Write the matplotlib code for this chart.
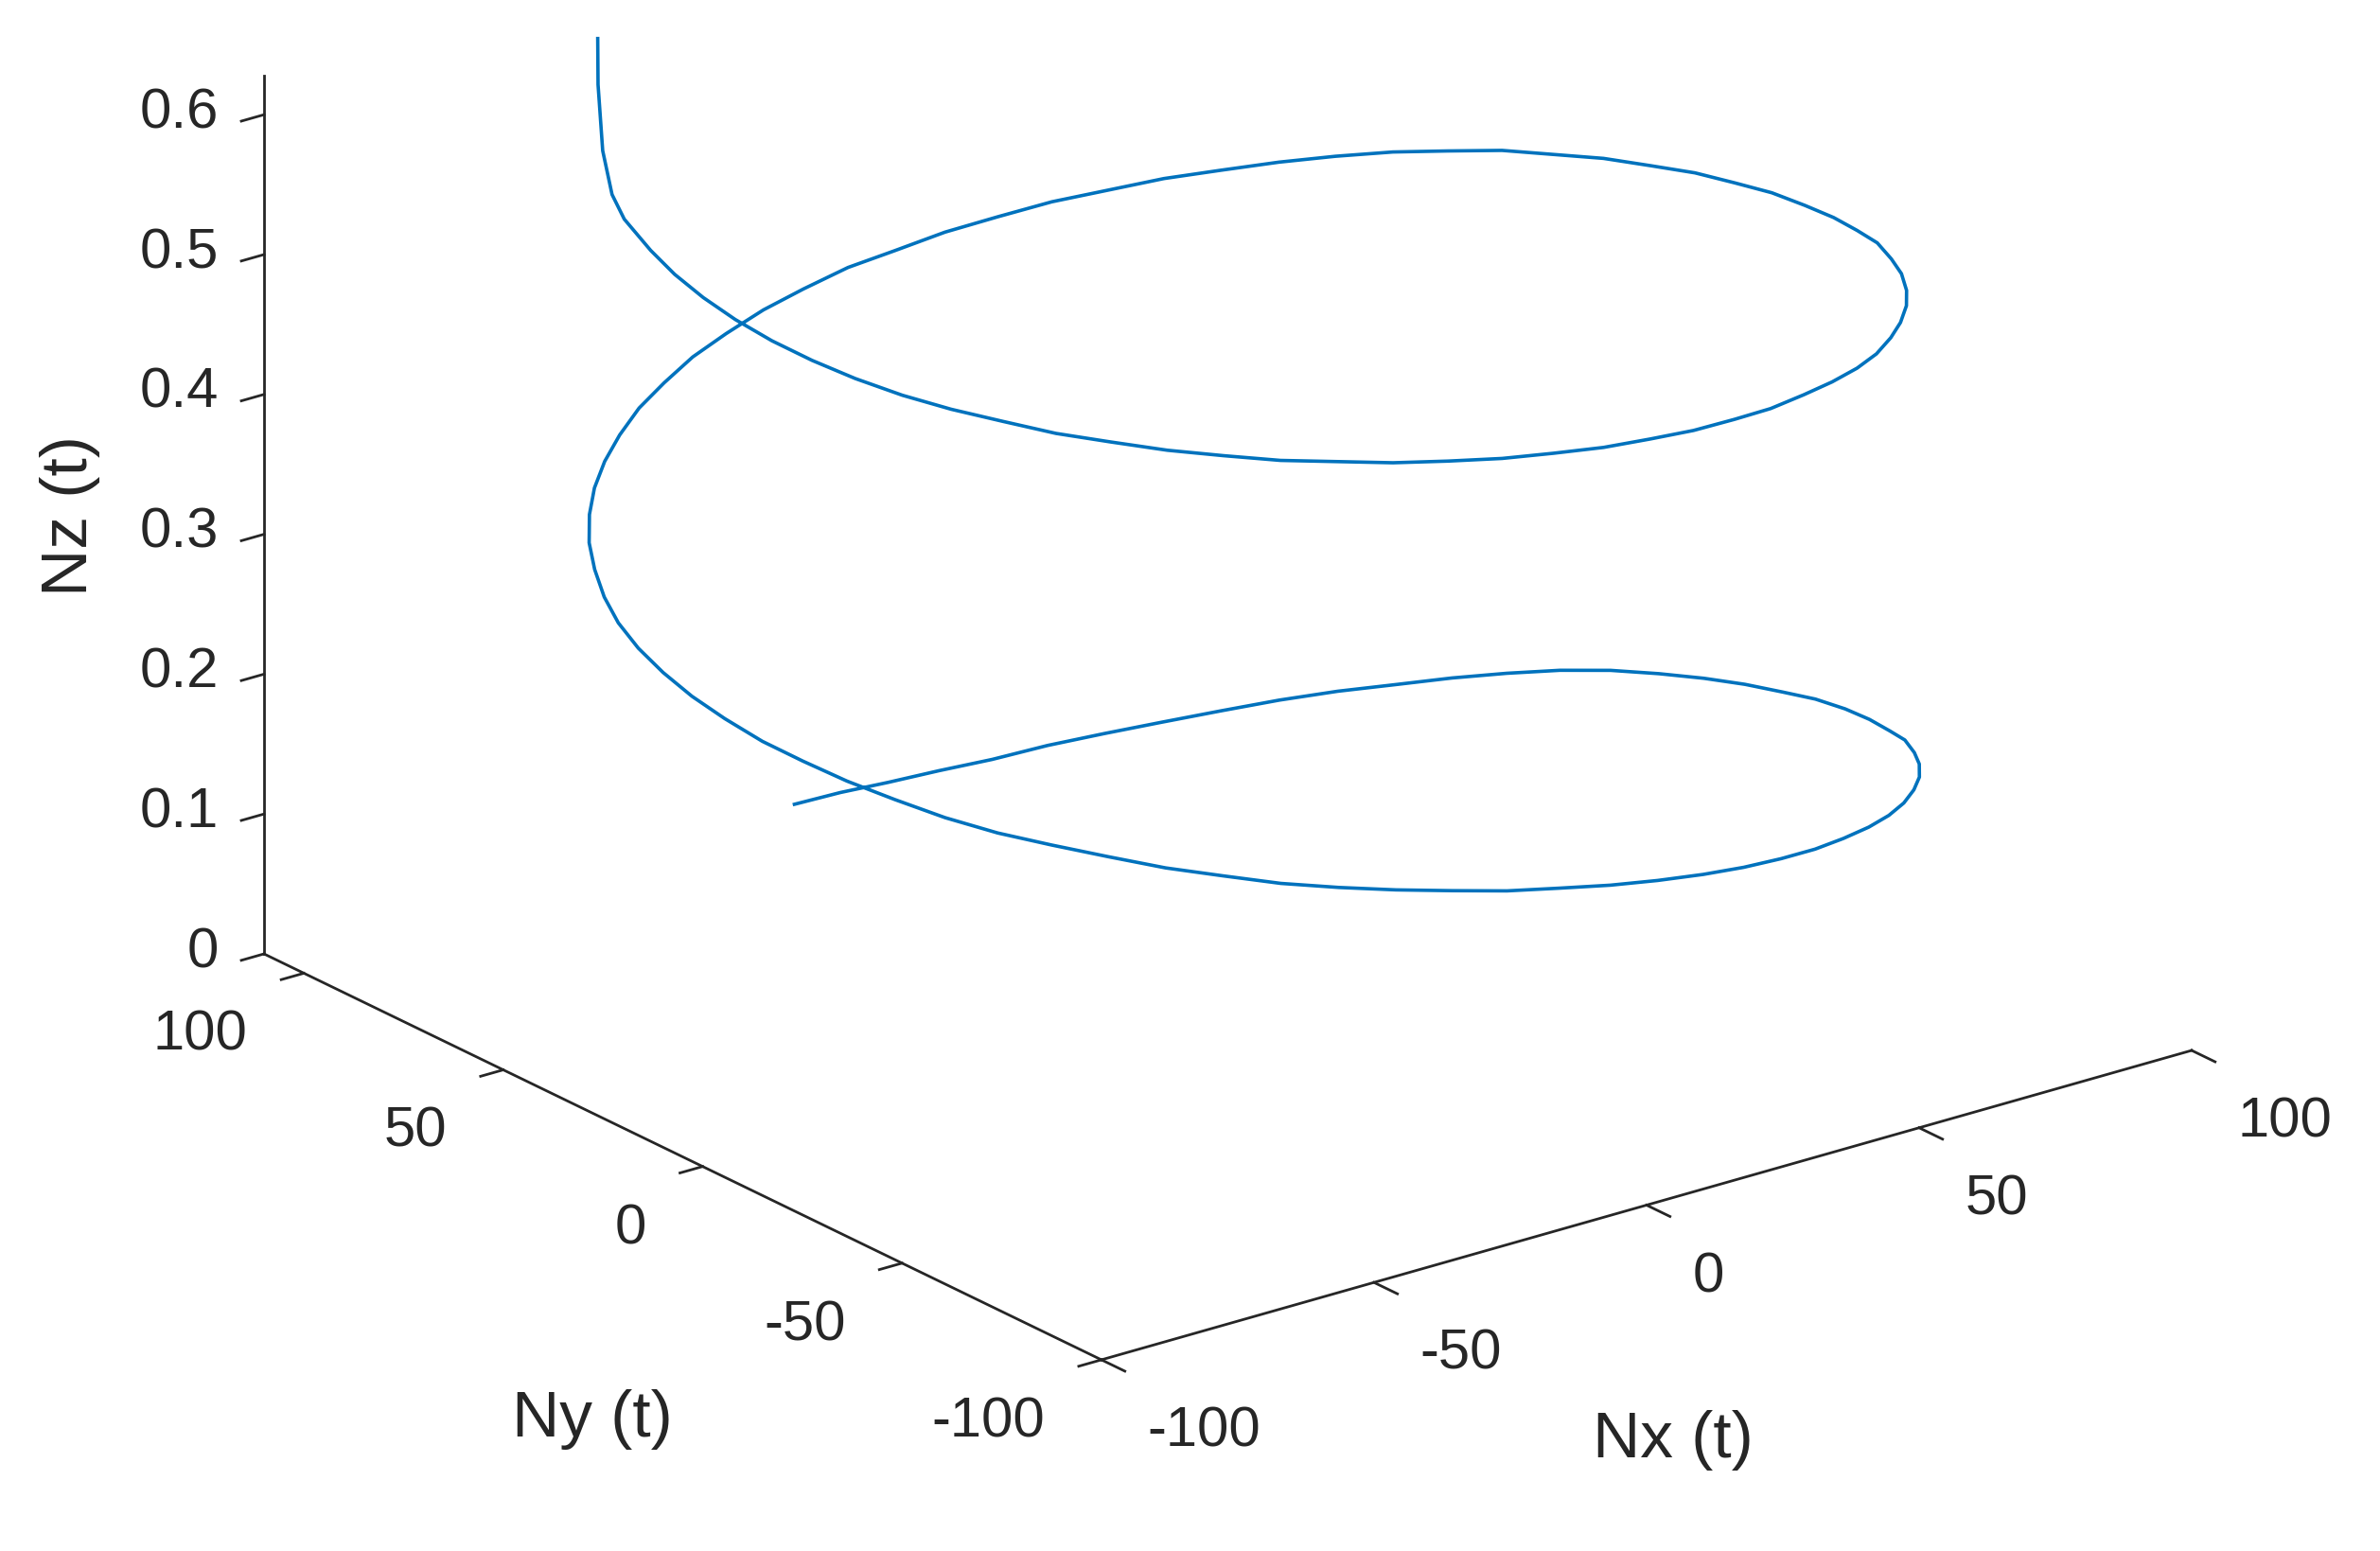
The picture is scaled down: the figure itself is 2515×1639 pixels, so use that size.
import matplotlib.pyplot as plt

plt.rcParams['font.family'] = ['Liberation Sans', 'DejaVu Sans']

# helix (about every 5 degrees of turn)
nx = [-10.6, -1.8, 6.8, 15.5, 24.0, 32.4, 40.5, 48.2, 55.7, 62.7,
      69.2, 75.2, 80.6, 85.4, 89.6, 93.1, 95.9, 98.0, 99.3, 99.8,
      99.6, 98.7, 97.0, 94.6, 91.5, 87.6, 83.1, 78.0, 72.3, 66.0,
      59.3, 52.2, 44.5, 36.7, 28.5, 20.1, 11.7, 3.0, -5.6, -14.2,
      -22.6, -30.9, -38.9, -46.6, -54.0, -60.9, -67.3, -73.3, -78.7, -83.4,
      -87.5, -91.0, -93.8, -95.8, -97.1, -97.7, -97.5, -96.5, -94.9, -92.5,
      -89.3, -85.5, -81.1, -76.0, -70.4, -64.2, -57.5, -50.5, -42.9, -35.1,
      -27.0, -18.7, -10.4, -1.8, 6.7, 15.2, 23.6, 31.8, 39.7, 47.3,
      54.6, 61.5, 67.8, 73.8, 79.1, 83.8, 87.8, 91.3, 94.0, 96.1,
      97.3, 97.9, 97.7, 96.8, 95.1, 92.8, 89.6, 85.9, 81.5, 76.5,
      70.8, 64.7, 58.2, 51.2, 43.7, 36.0, 27.9, 19.8, 11.4, 3.0,
      -5.4, -13.9, -22.1, -30.3, -38.1, -45.6, -52.9, -59.7, -65.9, -71.8,
      -77.1, -81.7, -85.8, -89.1, -91.9, -93.9, -95.2, -95.7, -95.5, -94.6,
      -93.0, -90.6, -87.8, -84.1, -80.2, -79.6]
ny = [99.2, 99.7, 99.5, 98.6, 96.9, 94.5, 91.3, 87.4, 82.9, 77.8,
      72.1, 65.7, 59.0, 51.8, 44.2, 36.3, 28.0, 19.6, 11.1, 2.4,
      -6.2, -14.9, -23.3, -31.7, -39.7, -47.4, -54.8, -61.8, -68.2, -74.3,
      -79.7, -84.4, -88.5, -92.1, -94.8, -96.9, -98.2, -98.7, -98.6, -97.6,
      -95.9, -93.5, -90.3, -86.5, -82.1, -77.0, -71.4, -65.1, -58.4, -51.3,
      -43.7, -35.9, -27.7, -19.4, -11.0, -2.4, 6.1, 14.7, 23.1, 31.4,
      39.3, 46.9, 54.3, 61.2, 67.6, 73.5, 78.9, 83.6, 87.7, 91.2,
      93.9, 95.9, 97.2, 97.8, 97.6, 96.7, 95.0, 92.6, 89.4, 85.7,
      81.3, 76.3, 70.7, 64.5, 57.9, 50.8, 43.3, 35.6, 27.5, 19.2,
      10.9, 2.4, -6.1, -14.6, -22.8, -31.0, -38.9, -46.5, -53.8, -60.6,
      -66.9, -72.8, -78.1, -82.8, -86.8, -90.2, -93.0, -95.0, -96.2, -96.8,
      -96.6, -95.7, -94.0, -91.7, -88.5, -84.8, -80.5, -75.5, -69.9, -63.8,
      -57.3, -50.3, -42.9, -35.2, -27.2, -19.1, -10.8, -2.3, 6.0, 14.4,
      22.6, 32.5, 39.4, 46.8, 53.3, 54.2]
nz = [0.023, 0.021, 0.019, 0.019, 0.020, 0.024, 0.028, 0.033, 0.039, 0.046,
      0.053, 0.060, 0.068, 0.076, 0.084, 0.091, 0.097, 0.103, 0.109, 0.115,
      0.122, 0.128, 0.134, 0.140, 0.148, 0.154, 0.161, 0.167, 0.173, 0.179,
      0.185, 0.191, 0.197, 0.203, 0.209, 0.215, 0.221, 0.227, 0.233, 0.239,
      0.244, 0.250, 0.255, 0.260, 0.265, 0.271, 0.276, 0.282, 0.287, 0.291,
      0.296, 0.302, 0.307, 0.312, 0.316, 0.321, 0.325, 0.329, 0.333, 0.337,
      0.341, 0.346, 0.350, 0.355, 0.359, 0.363, 0.367, 0.372, 0.376, 0.381,
      0.385, 0.390, 0.394, 0.399, 0.402, 0.407, 0.411, 0.416, 0.420, 0.425,
      0.429, 0.434, 0.439, 0.444, 0.448, 0.453, 0.456, 0.460, 0.463, 0.467,
      0.470, 0.474, 0.477, 0.481, 0.485, 0.490, 0.493, 0.497, 0.500, 0.504,
      0.507, 0.511, 0.514, 0.518, 0.522, 0.526, 0.529, 0.533, 0.536, 0.540,
      0.543, 0.547, 0.550, 0.554, 0.557, 0.561, 0.564, 0.568, 0.571, 0.575,
      0.578, 0.582, 0.585, 0.588, 0.592, 0.596, 0.600, 0.604, 0.608, 0.612,
      0.616, 0.622, 0.627, 0.644, 0.678, 0.709]

x_ticks = [-100, -50, 0, 50, 100]
x_tick_labels = ['-100', '-50', '0', '50', '100']
y_ticks = [-100, -50, 0, 50, 100]
y_tick_labels = ['-100', '-50', '0', '50', '100']
z_ticks = [0, 0.1, 0.2, 0.3, 0.4, 0.5, 0.6]
z_tick_labels = ['0', '0.1', '0.2', '0.3', '0.4', '0.5', '0.6']

line_col = '#0072BD'
axis_col = '#262626'

fig = plt.figure(figsize=(12.575, 8.2), dpi=200)
# the 3d box is taller than the figure, so the axes sticks out at the top
ax = fig.add_axes([0.06286, -0.05811, 0.88223, 1.35293], projection='3d')
ax.set_proj_type('ortho')
ax.view_init(elev=21.77, azim=-127.42)
ax.set_box_aspect((1, 1.0039, 0.689))

ax.plot(nx, ny, nz, color=line_col, lw=1.3)

ax.set_xlim(-100, 100)
ax.set_ylim(-100, 110)
ax.set_zlim(0, 0.628)
ax.set_xticks(x_ticks)
ax.set_yticks(y_ticks)
ax.set_zticks(z_ticks)
ax.set_xticklabels(x_tick_labels, ha='left', va='center')
ax.set_yticklabels(y_tick_labels, ha='right', va='center')
ax.set_zticklabels(z_tick_labels, ha='right', va='center')

ax.grid(False)
for axis in (ax.xaxis, ax.yaxis, ax.zaxis):
    axis.pane.set_visible(False)
    axis.line.set_color(axis_col)
    axis.line.set_linewidth(1.0)
    axis._axinfo['tick']['outward_factor'] = 0.0
    axis._axinfo['tick']['inward_factor'] = 0.26
    axis._axinfo['tick']['linewidth'] = {True: 1.0, False: 1.0}
ax.xaxis._axinfo['tick']['inward_factor'] = 0.35

ax.tick_params(axis='x', pad=15, colors=axis_col, labelsize=21.5)
ax.tick_params(axis='y', pad=13.5, colors=axis_col, labelsize=21.5)
ax.tick_params(axis='z', pad=1.75, colors=axis_col, labelsize=21.5)

fig.text(0.703, 0.072, 'Nx (t)', ha='center', va='center', fontsize=25, color=axis_col)
fig.text(0.2487, 0.0854, 'Ny (t)', ha='center', va='center', fontsize=25, color=axis_col)
fig.text(0.0294, 0.6677, 'Nz (t)', ha='center', va='center', fontsize=25,
         color=axis_col, rotation=90)

fig.savefig('out.png', dpi=200, facecolor='white')
